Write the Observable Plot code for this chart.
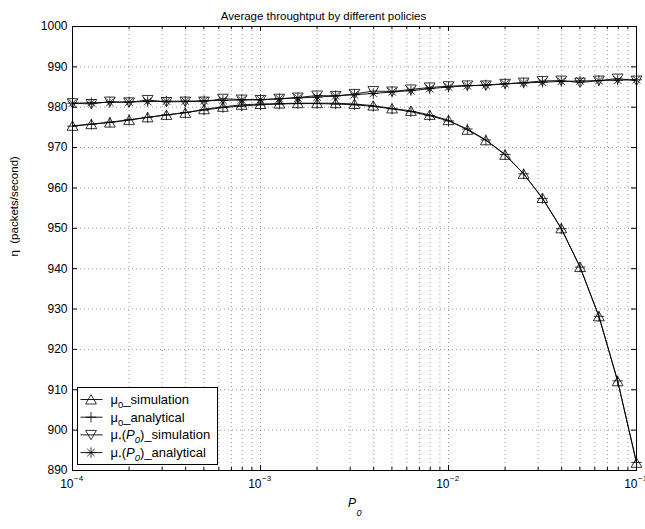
<!DOCTYPE html>
<html><head><meta charset="utf-8">
<script src="https://cdn.jsdelivr.net/npm/d3@7"></script>
<script src="https://cdn.jsdelivr.net/npm/@observablehq/plot@0.6"></script>
<style>body{margin:0;background:#fff;overflow:hidden;}</style>
</head><body><div id="chart"></div>
<script>
const P0 = [0.0001, 0.000126, 0.000158, 0.0002, 0.000251, 0.000316, 0.000398, 0.000501, 0.000631, 0.000794,
  0.001, 0.00126, 0.00158, 0.002, 0.00251, 0.00316, 0.00398, 0.00501, 0.00631, 0.00794,
  0.01, 0.0126, 0.0158, 0.02, 0.0251, 0.0316, 0.0398, 0.0501, 0.0631, 0.0794, 0.1];
const mu0Sim = [975.4, 975.8, 976.2, 976.8, 977.5, 978.1, 978.6, 979.5, 980.1, 980.6,
  980.8, 980.9, 981.0, 981.0, 981.0, 980.8, 980.4, 979.7, 979.1, 978.1,
  976.8, 974.4, 971.8, 968.2, 963.5, 957.5, 950.0, 940.4, 928.2, 912.1, 891.9];
const mu0Ana = [975.3, 975.8, 976.3, 976.9, 977.5, 978.1, 978.7, 979.3, 979.9, 980.3,
  980.6, 980.8, 980.9, 980.9, 980.8, 980.6, 980.2, 979.6, 978.9, 977.9,
  976.6, 974.6, 971.9, 968.3, 963.5, 957.4, 949.9, 940.4, 928.2, 912.2, 892.0];
const muStarSim = [981.0, 980.8, 981.4, 981.2, 981.8, 981.3, 981.4, 981.4, 982.1, 981.9,
  981.8, 982.1, 982.4, 982.9, 982.8, 983.3, 984.0, 983.9, 984.4, 984.9,
  985.2, 985.4, 985.4, 985.8, 986.1, 986.5, 986.6, 986.1, 986.6, 987.1, 986.6];
const muStarAna = [981.0, 981.1, 981.2, 981.3, 981.4, 981.5, 981.5, 981.6, 981.7, 981.8,
  981.9, 982.1, 982.3, 982.5, 982.8, 983.1, 983.4, 983.8, 984.1, 984.6,
  985.0, 985.3, 985.5, 985.8, 986.0, 986.2, 986.4, 986.5, 986.6, 986.7, 986.8];
const yTicks = [890, 900, 910, 920, 930, 940, 950, 960, 970, 980, 990, 1000];
const xDecades = [1e-4, 1e-3, 1e-2, 1e-1];
const xExponents = ["\u22124", "\u22123", "\u22122", "\u22121"];
const titleText = "Average throughtput by different policies";
const yLabelText = "\u03b7  (packets/second)";

const rows = P0.map((x, i) => ({x, mu0Sim: mu0Sim[i], mu0Ana: mu0Ana[i], muStarSim: muStarSim[i], muStarAna: muStarAna[i]}));

const W = 645, H = 529, mt = 26, ml = 72, mr = 9, mb = 59;
const pw = W - ml - mr, ph = H - mt - mb;
const allLog = d3.scaleLog().domain([1e-4, 1e-1]).ticks();
const isDecade = v => Math.abs(Math.log10(v) - Math.round(Math.log10(v))) < 1e-6;
const minorX = allLog.filter(v => !isDecade(v));
const gridX = allLog.filter(v => v > 1.0001e-4 && v < 0.09999);
const gridY = yTicks.filter(v => v > 890 && v < 1000);
const font = "'Liberation Sans', Arial, Helvetica, sans-serif";
const K = "#000";
const gridStyle = {stroke: K, strokeOpacity: 0.5, strokeWidth: 0.8, strokeDasharray: "1,3"};
const triR = 4.0, plusR = 3.5;

const plot = Plot.plot({
  width: W, height: H, marginTop: mt, marginLeft: ml, marginRight: mr, marginBottom: mb,
  style: {fontFamily: font, fontSize: "12px", background: "#fff", color: K},
  x: {type: "log", domain: [1e-4, 1e-1], axis: null},
  y: {domain: [890, 1000], axis: null},
  marks: [
    Plot.ruleX(gridX, gridStyle),
    Plot.ruleY(gridY, gridStyle),
    // inward ticks
    Plot.ruleX(xDecades, {stroke: K, insetTop: ph - 5}),
    Plot.ruleX(xDecades, {stroke: K, insetBottom: ph - 5}),
    Plot.ruleX(minorX, {stroke: K, insetTop: ph - 3}),
    Plot.ruleX(minorX, {stroke: K, insetBottom: ph - 3}),
    Plot.ruleY(yTicks, {stroke: K, insetRight: pw - 5}),
    Plot.ruleY(yTicks, {stroke: K, insetLeft: pw - 5}),
    Plot.frame({stroke: K, strokeWidth: 1}),
    // series
    Plot.line(rows, {x: "x", y: "mu0Ana", stroke: K, strokeWidth: 0.9}),
    Plot.line(rows, {x: "x", y: "mu0Sim", stroke: K, strokeWidth: 0.9}),
    Plot.line(rows, {x: "x", y: "muStarAna", stroke: K, strokeWidth: 0.9}),
    Plot.line(rows, {x: "x", y: "muStarSim", stroke: K, strokeWidth: 0.9}),
    Plot.dot(rows, {x: "x", y: "mu0Sim", symbol: "triangle", r: triR, dy: 1.4, fill: "none", stroke: K, strokeWidth: 0.8}),
    Plot.dot(rows, {x: "x", y: "mu0Ana", symbol: "plus", r: plusR, stroke: K, strokeWidth: 0.8}),
    Plot.dot(rows, {x: "x", y: "muStarSim", symbol: "triangle", rotate: 180, r: triR, dy: -1.4, fill: "none", stroke: K, strokeWidth: 0.8}),
    Plot.dot(rows, {x: "x", y: "muStarAna", symbol: "plus", r: plusR, stroke: K, strokeWidth: 0.8}),
    Plot.dot(rows, {x: "x", y: "muStarAna", symbol: "times", r: plusR, stroke: K, strokeWidth: 0.8}),
    // tick labels
    Plot.text(yTicks, {y: d => d, frameAnchor: "left", dx: -5, textAnchor: "end", text: d => String(d), fontSize: 12, fill: K}),
    Plot.text(xDecades, {x: d => d, frameAnchor: "bottom", dy: 17, dx: 1, textAnchor: "end", text: () => "10", fontSize: 12, fill: K}),
    Plot.text(xDecades, {x: d => d, frameAnchor: "bottom", dy: 10, dx: 1.5, textAnchor: "start", text: (d, i) => xExponents[i], fontSize: 8, fill: K}),
    // labels
    Plot.text([titleText], {frameAnchor: "top", dy: -15, dx: -31, fontSize: 11.5, fill: K}),
    Plot.text([yLabelText], {frameAnchor: "left", rotate: -90, dx: -58, dy: 8, fontSize: 11.5, fill: K}),
    Plot.text(["P"], {frameAnchor: "bottom", dx: -2.5, dy: 36, fontSize: 12, fontStyle: "italic", fill: K}),
    Plot.text(["0"], {frameAnchor: "bottom", dx: 4.5, dy: 45, fontSize: 9, fontStyle: "italic", fill: K})
  ]
});
document.getElementById("chart").append(plot);

// legend
const legendEntries = [
  {kind: "up", parts: [["\u03bc"], ["0", "sub"], ["_simulation"]]},
  {kind: "plus", parts: [["\u03bc"], ["0", "sub"], ["_analytical"]]},
  {kind: "down", parts: [["\u03bc"], ["*", "star"], ["("], ["P", "it"], ["0", "subit"], [")_simulation"]]},
  {kind: "star", parts: [["\u03bc"], ["*", "star"], ["("], ["P", "it"], ["0", "subit"], [")_analytical"]]}
];
const svg = d3.select(plot);
const lx = ml + 5.5, ly = 387.5, lw = 140, lh = 77;
const lg = svg.append("g").attr("font-family", font).attr("font-size", 13).attr("fill", K).attr("text-anchor", "start");
lg.append("rect").attr("x", lx).attr("y", ly).attr("width", lw).attr("height", lh)
  .attr("fill", "#fff").attr("stroke", K).attr("stroke-width", 1);
const triSize = triR * triR * Math.PI, plusSize = plusR * plusR * Math.PI;
legendEntries.forEach((e, i) => {
  const cy = ly + 12 + i * 17.7;
  const g = lg.append("g");
  g.append("line").attr("x1", lx + 3).attr("x2", lx + 25).attr("y1", cy).attr("y2", cy).attr("stroke", K).attr("stroke-width", 0.9);
  const mx = lx + 13.5;
  const addSym = (type, size, rot, dy) => g.append("path").attr("d", d3.symbol(type, size)())
    .attr("transform", `translate(${mx},${cy + dy}) rotate(${rot})`).attr("fill", "none").attr("stroke", K).attr("stroke-width", 0.8);
  if (e.kind === "up") addSym(d3.symbolTriangle, triSize, 0, 1.4);
  if (e.kind === "down") addSym(d3.symbolTriangle, triSize, 180, -1.4);
  if (e.kind === "plus") addSym(d3.symbolPlus, plusSize, 0, 0);
  if (e.kind === "star") { addSym(d3.symbolPlus, plusSize, 0, 0); addSym(d3.symbolTimes, plusSize, 0, 0); }
  const t = g.append("text").attr("x", lx + 33).attr("y", cy + 4.5).attr("text-anchor", "start");
  let shift = 0;
  e.parts.forEach(([s, style]) => {
    const ts = t.append("tspan").text(s);
    let target = 0;
    if (style === "sub" || style === "subit") { target = 4; ts.attr("font-size", 9.5); }
    if (style === "star") { target = 3; ts.attr("font-size", 7).attr("dx", 0.5); }
    if (style === "it" || style === "subit") ts.attr("font-style", "italic");
    if (s === "(") ts.attr("dx", 0.5);
    ts.attr("dy", target - shift);
    shift = target;
  });
});
</script>
</body></html>
